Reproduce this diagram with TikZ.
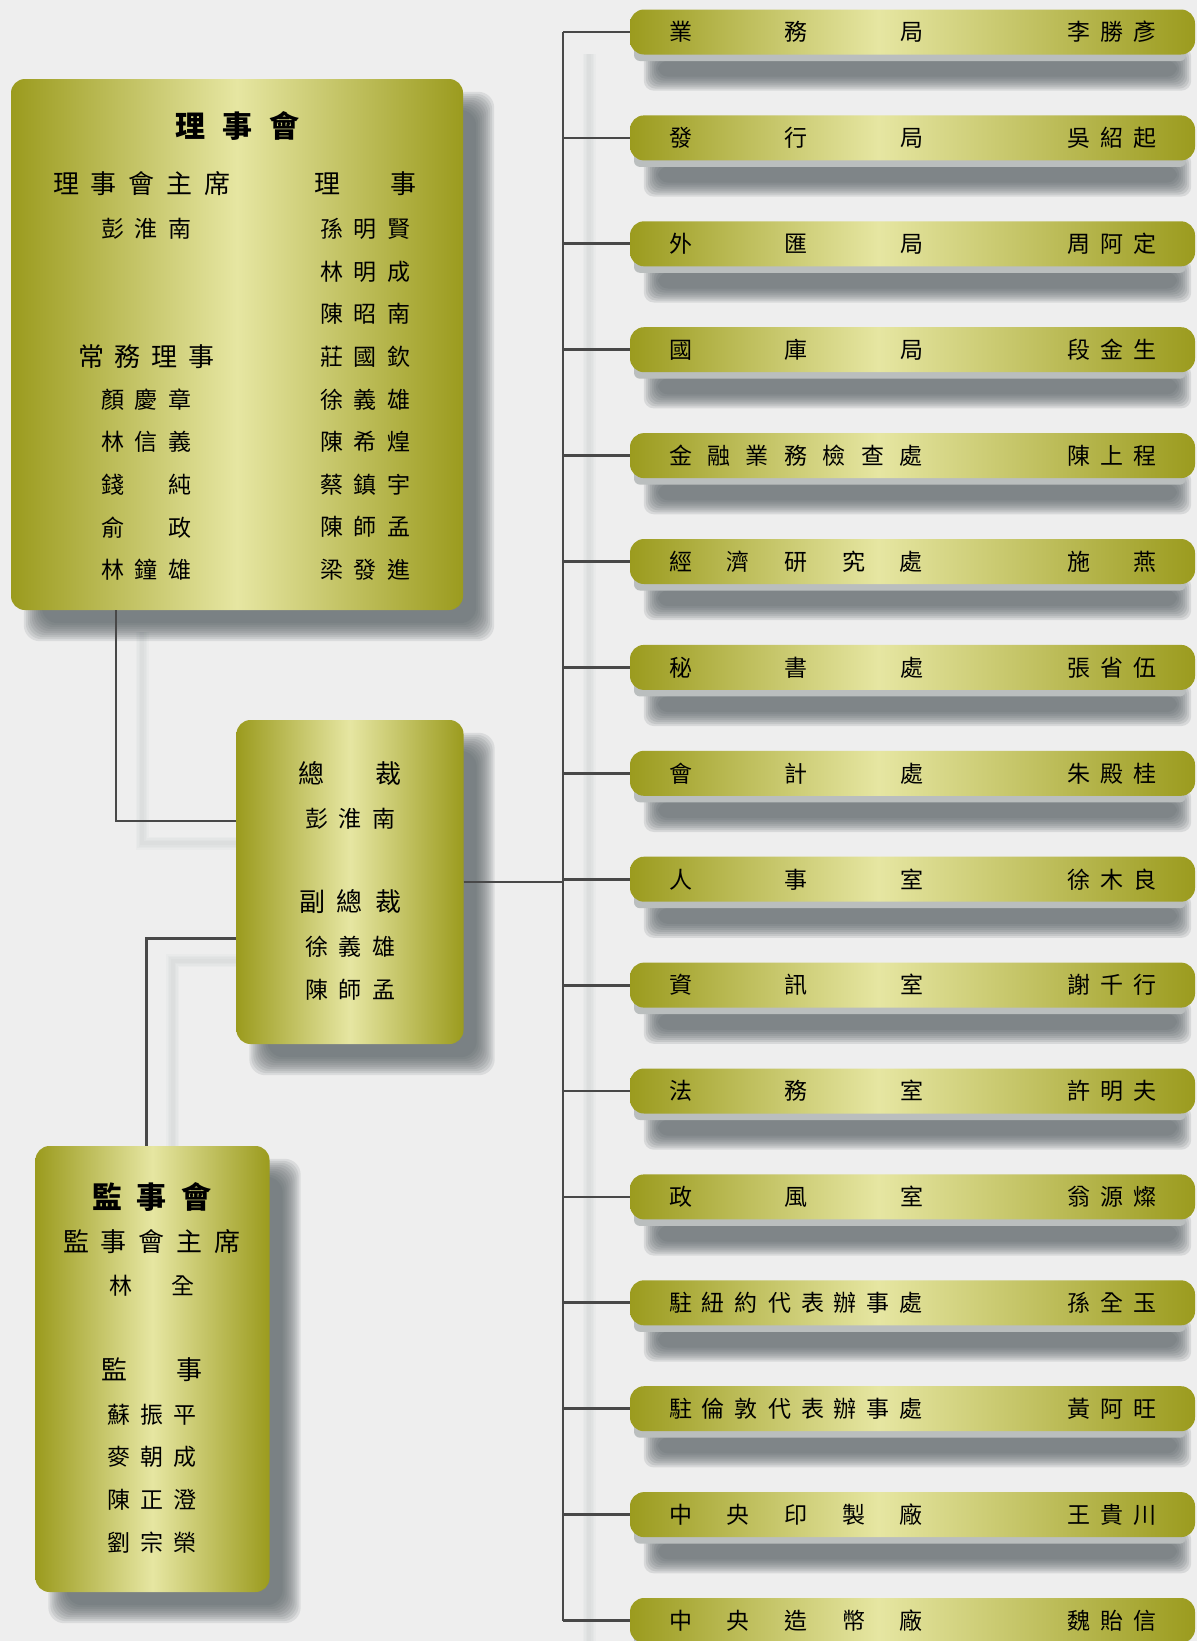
\documentclass[tikz,border=0pt]{standalone}
\usepackage{fontspec}
\newfontfamily\cjk{Noto Sans CJK TC}
\usetikzlibrary{calc}

\pgfdeclarelayer{back}
\pgfdeclarelayer{shade}
\pgfsetlayers{back,shade,main}

\definecolor{olivedk}{RGB}{155,155,30}
\definecolor{olivelt}{RGB}{230,230,162}
\definecolor{paper}{RGB}{238,238,238}
\definecolor{shadowc}{RGB}{88,96,100}
\definecolor{linkc}{RGB}{72,72,72}
\definecolor{stripc}{RGB}{186,190,190}
\definecolor{faintc}{RGB}{150,160,160}

\pgfdeclarehorizontalshading{goldbox}{100bp}{color(0bp)=(olivedk); color(25bp)=(olivedk);
  color(50bp)=(olivelt); color(75bp)=(olivedk); color(100bp)=(olivedk)}
\pgfdeclarehorizontalshading{goldbar}{100bp}{color(0bp)=(olivedk); color(25bp)=(olivedk);
  color(47bp)=(olivelt); color(75bp)=(olivedk); color(100bp)=(olivedk)}

% characters set at a fixed pitch
\newlength\chpitch
\newcommand\spaced[2]{\setlength\chpitch{#1}\expandafter\spacedloop#2\relax}
\def\spacedloop#1{\ifx\relax#1\else\makebox[\chpitch]{#1}\expandafter\spacedloop\fi}
% characters spread over a fixed width
\newcommand\justified[2]{\makebox[#1]{\expandafter\justloop#2\relax}}
\def\justloop#1#2{#1\ifx\relax#2\else\hfill\expandafter\justloop\expandafter#2\fi}

\tikzset{
  bigbox/.style={shading=goldbox, rounded corners=14pt, inner sep=0pt},
  barbox/.style={shading=goldbar, rounded corners=14pt, inner sep=0pt,
    minimum width=565pt, minimum height=45pt},
  link/.style={draw=linkc, line width=2.8pt},
  linkshadow/.style={draw=faintc, opacity=0.05, line width=#1},
  txt/.style={font=\cjk\fontsize{23}{23}\selectfont, inner sep=0pt},
  head/.style={font=\cjk\fontsize{26}{26}\selectfont, inner sep=0pt},
  title/.style={font=\cjk\bfseries\fontsize{30}{30}\selectfont, inner sep=0pt}
}

\begin{document}
\begin{tikzpicture}[x=1pt, y=-1pt]
  \useasboundingbox (0,0) rectangle (1197,1641);
  \begin{pgfonlayer}{back}
    \fill[paper] (0,0) rectangle (1197,1641);
  \end{pgfonlayer}

  % Draw boxes
  \node[bigbox, minimum width=452pt, minimum height=531pt] (board) at (237,344.5) {};
  \node[bigbox, minimum width=227pt, minimum height=324pt] (pres) at (350,882) {};
  \node[bigbox, minimum width=234pt, minimum height=446pt] (super) at (152.5,1369) {};

  % Draw bars
  \foreach \dept/\who [count=\i] in {業務局/李勝彥, 發行局/吳紹起, 外匯局/周阿定,
    國庫局/段金生, 金融業務檢查處/陳上程, 經濟研究處/施~燕, 秘書處/張省伍,
    會計處/朱殿桂, 人事室/徐木良, 資訊室/謝千行, 法務室/許明夫, 政風室/翁源燦,
    駐紐約代表辦事處/孫全玉, 駐倫敦代表辦事處/黃阿旺, 中央印製廠/王貴川,
    中央造幣廠/魏貽信} {
    \fill[stripc, rounded corners=6pt] (634,{32+105.9*(\i-1)+10})
      rectangle (1186,{32+105.9*(\i-1)+29});
    \node[barbox] (bar\i) at (912.5,{32+105.9*(\i-1)}) {};
    \node[txt, anchor=west] at ($(bar\i.west)+(39,0)$) {\justified{254pt}{\dept}};
    \node[txt] at ($(bar\i.west)+(482,0)$) {\spaced{33pt}{\who}};
  }

  % Draw connectors
  \coordinate (spine) at (563,0);
  \coordinate (bp) at (116,821);
  \coordinate (sp) at (146.5,938.5);
  \begin{pgfonlayer}{back}
    \foreach \w in {4,7,10,13} {
      \draw[linkshadow=\w pt] ($(spine|-bar1.west)+(26,22)$) -- ($(spine|-bar16.west)+(26,22)$);
      \draw[linkshadow=\w pt] ($(board.south-|bp)+(26,22)$) |- ($(pres.west|-bp)+(0,22)$);
      \draw[linkshadow=\w pt] ($(super.north-|sp)+(26,0)$) |- ($(pres.west|-sp)+(0,22)$);
    }
  \end{pgfonlayer}
  \draw[link] (spine|-bar1.west) -- (spine|-bar16.west);
  \foreach \i in {1,...,16}
    \draw[link] (spine|-bar\i.west) -- (bar\i.west);
  \draw[link] (pres.east) -- (spine|-pres.east);
  \draw[link] (board.south-|bp) |- (pres.west|-bp);
  \draw[link] (super.north-|sp) |- (pres.west|-sp);

  % Draw shadows
  \begin{pgfonlayer}{shade}
    \foreach \n in {board,pres,super}
      \foreach \k in {0,...,9}
        \fill[shadowc, opacity=0.13, rounded corners=16pt]
          ($(\n.north west)+(13+2*\k,13+2*\k)$) rectangle ($(\n.south east)+(31-2*\k,31-2*\k)$);
    \foreach \i in {1,...,16}
      \foreach \k in {0,...,7}
        \fill[shadowc, opacity=0.15, rounded corners=10pt]
          ($(bar\i.south west)+(14+2*\k,-8+2*\k)$) rectangle ($(bar\i.south east)+(-4-2*\k,36-2*\k)$);
  \end{pgfonlayer}

  % Board texts
  \node[title] (boardtitle) at (237.5,125.5) {\spaced{47pt}{理事會}};
  \node[head] (chairhead) at (142,184) {\spaced{38pt}{理事會主席}};
  \node[head] (dirhead) at (365,184) {\spaced{38pt}{理~事}};
  \node[head] (standhead) at (146.5,357) {\spaced{37pt}{常務理事}};
  \node[txt] (chair) at (146.5,229) {\spaced{33.5pt}{彭淮南}};
  \foreach \who [count=\j from 4] in {顏慶章, 林信義, 錢~純, 俞~政, 林鐘雄}
    \node[txt] (stand\j) at (146.5,{229+42.6*\j}) {\spaced{33.5pt}{\who}};
  \foreach \who [count=\j from 0] in {孫明賢, 林明成, 陳昭南, 莊國欽, 徐義雄,
    陳希煌, 蔡鎮宇, 陳師孟, 梁發進}
    \node[txt] (dir\j) at (365,{229+42.6*\j}) {\spaced{33.5pt}{\who}};

  % President texts
  \node[head] (preshead) at (350,774) {\spaced{38.5pt}{總~裁}};
  \node[txt] (presname) at (350,819) {\spaced{33.5pt}{彭淮南}};
  \node[head] (vicehead) at (350,902) {\spaced{38pt}{副總裁}};
  \node[txt] (vice1) at (350,947) {\spaced{33.5pt}{徐義雄}};
  \node[txt] (vice2) at (350,990) {\spaced{33.5pt}{陳師孟}};

  % Supervisor texts
  \node[title] (supertitle) at (152,1197) {\spaced{45pt}{監事會}};
  \node[head] (superchair) at (152,1242) {\spaced{38pt}{監事會主席}};
  \node[txt] (supername) at (152,1286) {\spaced{31.5pt}{林~全}};
  \node[head] (suphead) at (152,1370) {\spaced{38pt}{監~事}};
  \foreach \who [count=\j from 0] in {蘇振平, 麥朝成, 陳正澄, 劉宗榮}
    \node[txt] (sup\j) at (152,{1414.6+42.6*\j}) {\spaced{33.5pt}{\who}};
\end{tikzpicture}
\end{document}
